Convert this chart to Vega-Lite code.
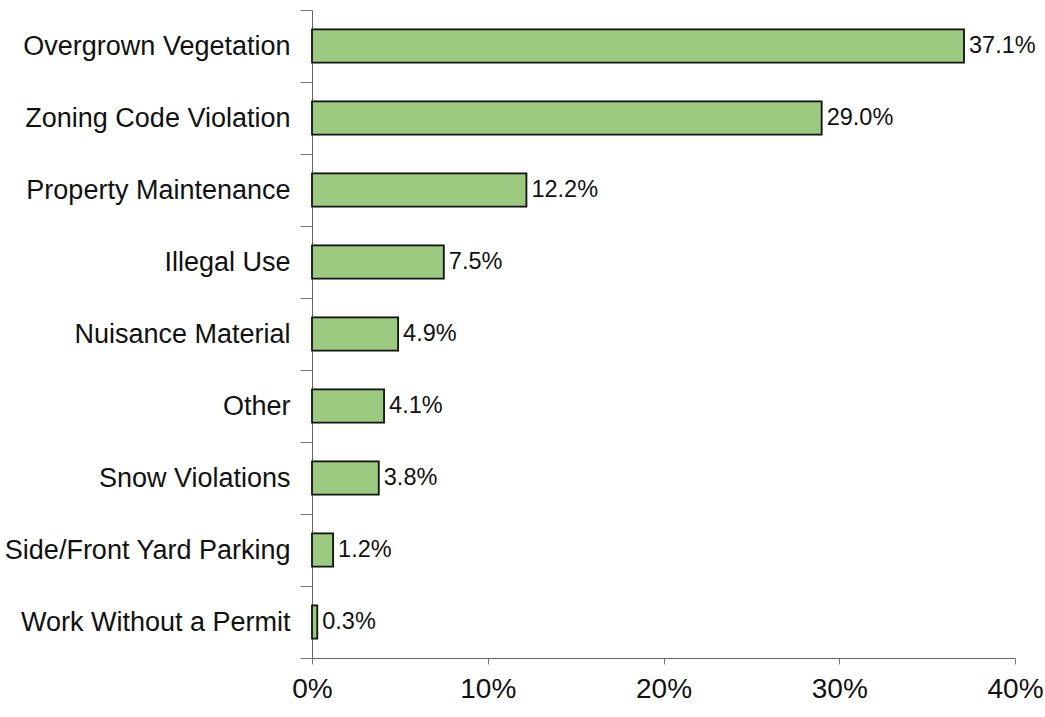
{
  "$schema": "https://vega.github.io/schema/vega-lite/v6.json",
  "width": 703,
  "height": 648,
  "autosize": {"type": "none"},
  "padding": {"left": 312, "top": 10, "right": 30, "bottom": 59},
  "background": "white",
  "config": {"view": {"stroke": null}, "font": "Liberation Sans"},
  "data": {"values": [
    {"type": "Overgrown Vegetation", "share": 0.371},
    {"type": "Zoning Code Violation", "share": 0.290},
    {"type": "Property Maintenance", "share": 0.122},
    {"type": "Illegal Use", "share": 0.075},
    {"type": "Nuisance Material", "share": 0.049},
    {"type": "Other", "share": 0.041},
    {"type": "Snow Violations", "share": 0.038},
    {"type": "Side/Front Yard Parking", "share": 0.012},
    {"type": "Work Without a Permit", "share": 0.003}
  ]},
  "encoding": {
    "y": {"field": "type", "type": "nominal", "sort": null,
      "scale": {"paddingInner": 0, "paddingOuter": 0},
      "axis": {"title": null, "labelFontSize": 27, "labelColor": "#111", "labelPadding": 10,
        "tickBand": "extent", "tickSize": 12, "tickColor": "#777", "domainColor": "#666", "labelLimit": 400}},
    "x": {"field": "share", "type": "quantitative",
      "scale": {"domain": [0, 0.4]},
      "axis": {"title": null, "format": ".0%", "values": [0, 0.1, 0.2, 0.3, 0.4], "grid": false,
        "labelFlush": false, "labelOverlap": false,
        "labelFontSize": 28, "labelColor": "#111", "labelPadding": 11, "tickSize": 6,
        "tickColor": "#777", "domainColor": "#666"}}
  },
  "layer": [
    {"mark": {"type": "bar", "height": {"band": 0.46}, "fill": "#9ac97f", "stroke": "#111", "strokeWidth": 1.8}},
    {"mark": {"type": "text", "align": "left", "dx": 5, "fontSize": 23.5, "color": "#111"},
     "encoding": {"text": {"field": "share", "type": "quantitative", "format": ".1%"}}}
  ]
}
